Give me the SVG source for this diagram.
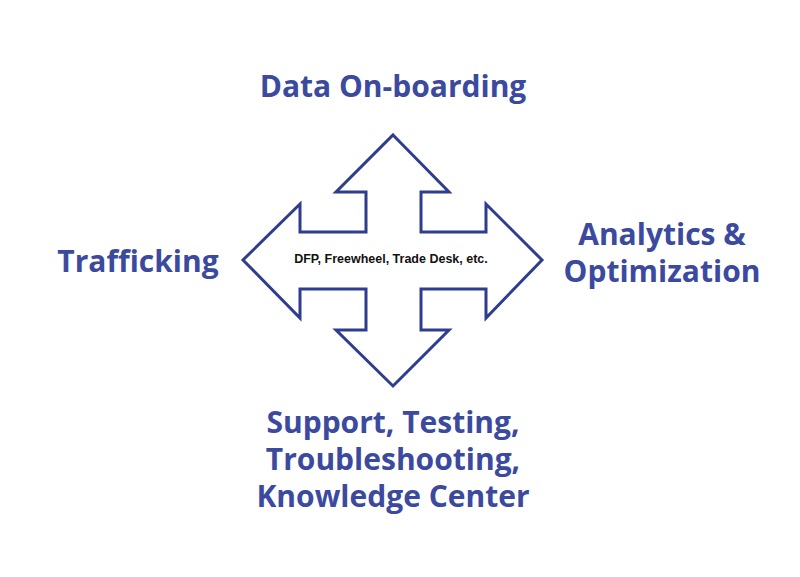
<svg xmlns="http://www.w3.org/2000/svg" width="800" height="577" viewBox="0 0 800 577">
<style>
.lbl{font-family:"Open Sans","Liberation Sans",sans-serif;font-weight:bold;font-size:30px;fill:#3b4a9e;text-anchor:middle}
.arrow{fill:#fff;stroke:#2f3d8f;stroke-width:3;stroke-linejoin:miter}
.inner{font-family:"Liberation Sans",Arial,sans-serif;font-weight:bold;font-size:12.5px;fill:#111;text-anchor:middle}
</style>
<rect width="800" height="577" fill="#fff"/>
<g id="cross">
<polygon class="arrow" points="393,135 449,192 421,192 421,232 486,232 486,204 542,260 486,318 486,289 421,289 421,330 449,330 393,386 336,330 366,330 366,289 300,289 300,318 243,260 300,204 300,232 366,232 366,192 336,192"/>
<text class="inner" x="391" y="263">DFP, Freewheel, Trade Desk, etc.</text>
</g>
<g id="connectors"></g>
<g id="top"><text class="lbl" x="393" y="97">Data On-boarding</text></g>
<g id="left"><text class="lbl" x="138" y="272">Trafficking</text></g>
<g id="right"><text class="lbl" x="662" y="245">Analytics &amp;</text><text class="lbl" x="662" y="282">Optimization</text></g>
<g id="bottom"><text class="lbl" x="393" y="433">Support, Testing,</text><text class="lbl" x="393" y="470">Troubleshooting,</text><text class="lbl" x="393" y="507">Knowledge Center</text></g>
</svg>
